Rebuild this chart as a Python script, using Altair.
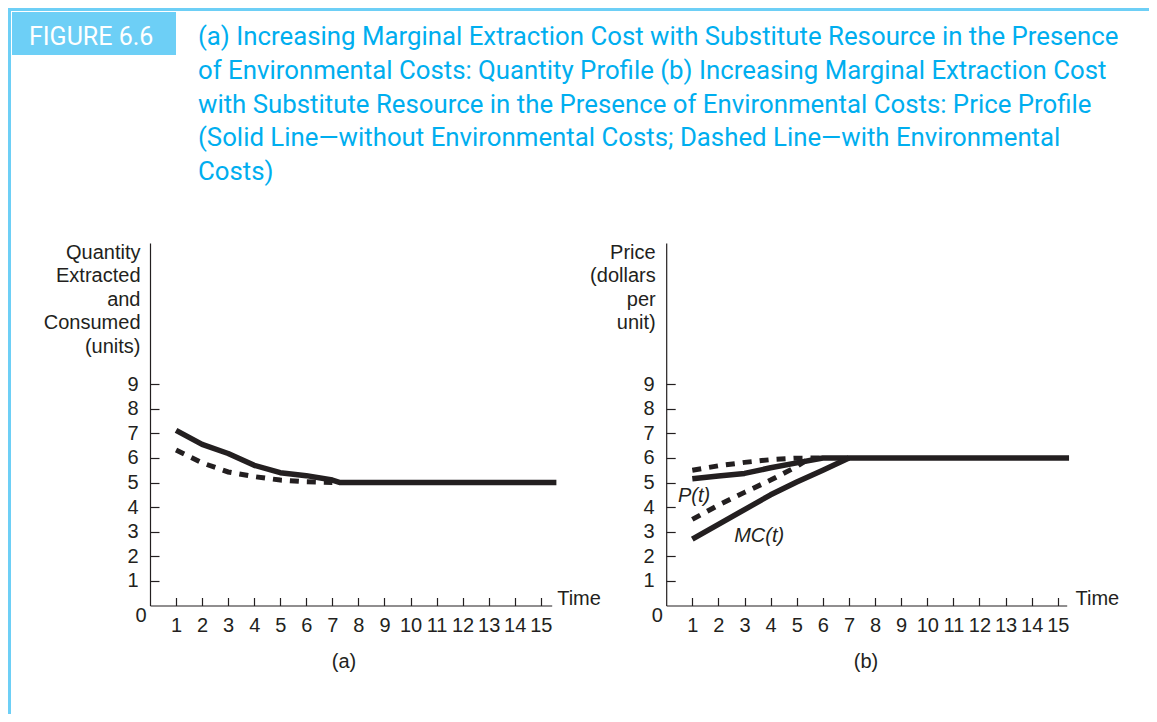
import altair as alt
import pandas as pd

# ---------------- data ----------------
X_TICKS = list(range(1, 16))
Y_TICKS = list(range(1, 10))

# Panel (a): quantity extracted and consumed
A_SOLID_T = [1, 2, 3, 4, 5, 6, 7, 7.3, 15.6]
A_SOLID_Q = [7.12, 6.55, 6.18, 5.7, 5.4, 5.28, 5.1, 5.0, 5.0]
A_DASH_T = [1, 2, 3, 4, 5, 6, 7]
A_DASH_Q = [6.32, 5.8, 5.43, 5.24, 5.1, 5.03, 5.0]

# Panel (b): price profile
B_P_SOLID_T = [1, 2, 3, 4, 5, 6, 15.43]
B_P_SOLID_V = [5.15, 5.27, 5.37, 5.6, 5.8, 6.0, 6.0]
B_MC_SOLID_T = [1, 2, 3, 4, 5, 6, 7]
B_MC_SOLID_V = [2.7, 3.3, 3.9, 4.5, 5.02, 5.5, 6.0]
B_P_DASH_T = [1, 2, 3, 4, 5, 6]
B_P_DASH_V = [5.5, 5.68, 5.82, 5.93, 5.99, 6.0]
B_MC_DASH_T = [1, 2, 3, 4, 5, 5.5]
B_MC_DASH_V = [3.5, 4.08, 4.6, 5.1, 5.65, 6.0]

ANN_LABELS = ["P(t)", "MC(t)"]
ANN_T = [1.07, 3.56]
ANN_V = [4.47, 2.82]

FIG_LABEL = "FIGURE 6.6"
TITLE_LINES = [
    "(a) Increasing Marginal Extraction Cost with Substitute Resource in the Presence",
    "of Environmental Costs: Quantity Profile (b) Increasing Marginal Extraction Cost",
    "with Substitute Resource in the Presence of Environmental Costs: Price Profile",
    "(Solid Line\u2014without Environmental Costs; Dashed Line\u2014with Environmental",
    "Costs)",
]
Y_TITLE_A = ["Quantity", "Extracted", "and", "Consumed", "(units)"]
Y_TITLE_B = ["Price", "(dollars", "per", "unit)"]
X_TITLE = "Time"
CAPTIONS = ["(a)", "(b)"]

# ---------------- style ----------------
W, H = 1141, 706
INK = "#231f20"
BLUE = "#6dcff6"
CYAN = "#00aeef"
FONT = "Liberation Sans"
TFONT = "Roboto"

AX0 = 142.0      # panel a y-axis x (canvas px)
BX0 = 658.2      # panel b y-axis x
Y0 = 597.5       # x-axis y

XA = alt.Scale(domain=[0, 15.42], range=[AX0, 543.7], nice=False, zero=False)
XB = alt.Scale(domain=[0, 15.34], range=[BX0, 1058.7], nice=False, zero=False)
YS = alt.Scale(domain=[0, 14.74], range=[Y0, 235], nice=False, zero=False)

one = pd.DataFrame({"k": [0]})


def df(t, v, name):
    return pd.DataFrame({"t": t, "v": v, "series": name})


def x_label_axis(title_x):
    return alt.Axis(orient="bottom", values=X_TICKS, ticks=False, tickSize=0,
                    domain=True, domainColor=INK, domainWidth=1.2,
                    labelFont=FONT, labelFontSize=20, labelColor=INK,
                    labelPadding=10, labelOverlap=False, labelFlush=False,
                    grid=False, offset=-(H - Y0),
                    title=X_TITLE, titleX=title_x, titleY=-7.5, titleAlign="left",
                    titleBaseline="middle", titleAngle=0, titleFont=FONT,
                    titleFontSize=20, titleFontWeight="normal", titleColor=INK)


def y_label_axis(x0, lines, title_x):
    return alt.Axis(orient="left", values=Y_TICKS, ticks=False, tickSize=0,
                    domain=True, domainColor=INK, domainWidth=1.2,
                    labelFont=FONT, labelFontSize=20, labelColor=INK,
                    labelPadding=12, labelOverlap=False, labelFlush=False,
                    grid=False, offset=-x0,
                    title=lines, titleX=title_x, titleY=234, titleAlign="right",
                    titleBaseline="top", titleAngle=0, titleLineHeight=23.5,
                    titleFont=FONT, titleFontSize=20, titleFontWeight="normal",
                    titleColor=INK)


def x_tick_axis():
    return alt.Axis(orient="top", values=X_TICKS, ticks=True, tickSize=8,
                    tickColor=INK, tickWidth=1.2, labels=False, domain=False,
                    grid=False, title=None, offset=-Y0)


def y_tick_axis(x0):
    return alt.Axis(orient="right", values=Y_TICKS, ticks=True, tickSize=9,
                    tickColor=INK, tickWidth=1.2, labels=False, domain=False,
                    grid=False, title=None, offset=x0 - W)


line_solid = dict(color=INK, strokeWidth=5.5, strokeCap="butt", strokeJoin="round")
line_dash = dict(color=INK, strokeWidth=5, strokeCap="butt", strokeDash=[9, 8])

# ---------------- decorations ----------------
frame_top = alt.Chart(one).mark_rect(color=BLUE).encode(
    x=alt.value(0), x2=alt.value(W), y=alt.value(0), y2=alt.value(3))
frame_left = alt.Chart(one).mark_rect(color=BLUE).encode(
    x=alt.value(0), x2=alt.value(3), y=alt.value(0), y2=alt.value(H))
fig_box = alt.Chart(one).mark_rect(color=BLUE).encode(
    x=alt.value(4), x2=alt.value(168), y=alt.value(4), y2=alt.value(47))
fig_text = alt.Chart(one).mark_text(
    text=FIG_LABEL, font=TFONT, fontSize=25, color="white", align="left",
    baseline="alphabetic").encode(x=alt.value(21), y=alt.value(37))
title_text = alt.Chart(one).mark_text(
    text=TITLE_LINES, font=TFONT, fontSize=25.8, color=CYAN, align="left",
    baseline="top", lineHeight=33.75).encode(x=alt.value(190), y=alt.value(17))
cap_a = alt.Chart(one).mark_text(
    text=CAPTIONS[0], font=FONT, fontSize=20, color=INK, align="center",
    baseline="middle").encode(x=alt.value(336), y=alt.value(654))
cap_b = alt.Chart(one).mark_text(
    text=CAPTIONS[1], font=FONT, fontSize=20, color=INK, align="center",
    baseline="middle").encode(x=alt.value(858), y=alt.value(654))

# ---------------- panel (a) ----------------
a_solid = alt.Chart(df(A_SOLID_T, A_SOLID_Q, "without")).mark_line(**line_solid).encode(
    x=alt.X("t:Q", scale=XA, axis=x_label_axis(548.7)),
    y=alt.Y("v:Q", scale=YS, axis=y_label_axis(AX0, Y_TITLE_A, -10)),
)
a_dash = alt.Chart(df(A_DASH_T, A_DASH_Q, "with")).mark_line(**line_dash).encode(
    x=alt.X("t:Q", scale=XA, axis=None),
    y=alt.Y("v:Q", scale=YS, axis=None),
)
a_zero = alt.Chart(pd.DataFrame({"t": [0], "v": [0], "lab": ["0"]})).mark_text(
    font=FONT, fontSize=20, color=INK, dx=-9, dy=10, baseline="middle").encode(
    x=alt.X("t:Q", scale=XA, axis=x_tick_axis()),
    y=alt.Y("v:Q", scale=YS, axis=y_tick_axis(AX0)),
    text="lab:N",
)

# ---------------- panel (b) ----------------
b_solid_df = pd.concat([df(B_P_SOLID_T, B_P_SOLID_V, "P"),
                        df(B_MC_SOLID_T, B_MC_SOLID_V, "MC")])
b_dash_df = pd.concat([df(B_P_DASH_T, B_P_DASH_V, "P"),
                       df(B_MC_DASH_T, B_MC_DASH_V, "MC")])
b_solid = alt.Chart(b_solid_df).mark_line(**line_solid).encode(
    x=alt.X("t:Q", scale=XB, axis=x_label_axis(1067)),
    y=alt.Y("v:Q", scale=YS, axis=y_label_axis(BX0, Y_TITLE_B, -11)),
    detail="series:N",
)
b_dash = alt.Chart(b_dash_df).mark_line(**line_dash).encode(
    x=alt.X("t:Q", scale=XB, axis=None),
    y=alt.Y("v:Q", scale=YS, axis=None),
    detail="series:N",
)
b_zero = alt.Chart(pd.DataFrame({"t": [0], "v": [0], "lab": ["0"]})).mark_text(
    font=FONT, fontSize=20, color=INK, dx=-9, dy=10, baseline="middle").encode(
    x=alt.X("t:Q", scale=XB, axis=x_tick_axis()),
    y=alt.Y("v:Q", scale=YS, axis=y_tick_axis(BX0)),
    text="lab:N",
)
b_ann = alt.Chart(pd.DataFrame({"t": ANN_T, "v": ANN_V, "lab": ANN_LABELS})).mark_text(
    font=FONT, fontSize=20, fontStyle="italic", color=INK, baseline="middle").encode(
    x=alt.X("t:Q", scale=XB, axis=None),
    y=alt.Y("v:Q", scale=YS, axis=None),
    text="lab:N",
)

chart = alt.layer(
    frame_top, frame_left, fig_box, fig_text, title_text, cap_a, cap_b,
    a_solid, a_dash, a_zero,
    b_solid, b_dash, b_zero, b_ann,
).resolve_scale(x="independent", y="independent").properties(
    width=W, height=H, autosize=alt.AutoSizeParams(type="none"), padding=0,
    background="white",
).configure_view(stroke=None)

chart.save("out.html", embed_options={"renderer": "svg", "actions": False})
